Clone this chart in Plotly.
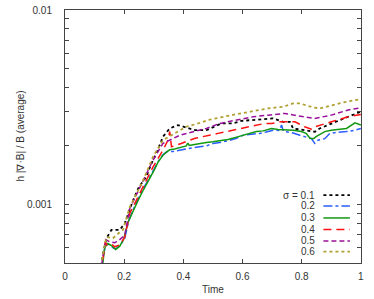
import plotly.graph_objects as go

# sigma = 0.1 (black dotted)
t1 = [0.12, 0.128, 0.14, 0.157, 0.185, 0.202, 0.23, 0.25, 0.275, 0.29, 0.309, 0.331, 0.354, 0.382, 0.44, 0.478, 0.529, 0.568, 0.596, 0.636, 0.675, 0.703, 0.737, 0.76, 0.771, 0.81, 0.845, 0.861, 0.9, 0.957, 1.0]
v1 = [0.00045, 0.00055, 0.00067, 0.00074, 0.00074, 0.00080, 0.00105, 0.00123, 0.00139, 0.0016, 0.00183, 0.00223, 0.00246, 0.00256, 0.00241, 0.00241, 0.00261, 0.00261, 0.00269, 0.00272, 0.00277, 0.00277, 0.00266, 0.00266, 0.00246, 0.00241, 0.002365, 0.00246, 0.00261, 0.002825, 0.0030]
# sigma = 0.2 (blue dash-dot)
t2 = [0.12, 0.128, 0.1375, 0.15, 0.165, 0.174, 0.19, 0.202, 0.215, 0.23, 0.247, 0.265, 0.281, 0.30, 0.3145, 0.331, 0.345, 0.365, 0.388, 0.41, 0.433, 0.455, 0.478, 0.50, 0.523, 0.557, 0.58, 0.602, 0.636, 0.658, 0.68, 0.703, 0.725, 0.732, 0.738, 0.749, 0.771, 0.794, 0.815, 0.833, 0.844, 0.855, 0.878, 0.895, 0.92, 0.9515, 0.98, 1.0]
v2 = [0.00045, 0.00052, 0.00063, 0.00062, 0.000595, 0.000594, 0.00063, 0.00067, 0.00082, 0.00094, 0.00107, 0.00121, 0.00133, 0.00151, 0.00166, 0.00180, 0.00187, 0.00187, 0.00190, 0.00194, 0.00196, 0.00198, 0.00200, 0.00206, 0.00208, 0.00214, 0.00219, 0.00227, 0.00229, 0.00232, 0.00236, 0.00241, 0.00240, 0.00256, 0.00238, 0.00237, 0.00233, 0.00227, 0.00222, 0.00218, 0.00206, 0.00214, 0.00218, 0.00232, 0.00235, 0.00237, 0.00241, 0.00246]
# sigma = 0.3 (green solid)
t3 = [0.12, 0.128, 0.134, 0.145, 0.157, 0.171, 0.185, 0.198, 0.213, 0.23, 0.247, 0.265, 0.281, 0.30, 0.3145, 0.331, 0.345, 0.354, 0.37, 0.388, 0.41, 0.415, 0.42, 0.433, 0.455, 0.478, 0.50, 0.523, 0.551, 0.58, 0.602, 0.625, 0.647, 0.67, 0.698, 0.72, 0.749, 0.771, 0.799, 0.815, 0.828, 0.84, 0.85, 0.878, 0.90, 0.93, 0.9515, 0.98, 1.0]
v3 = [0.00045, 0.0005, 0.00060, 0.00063, 0.000615, 0.000587, 0.00061, 0.00066, 0.00081, 0.00093, 0.00105, 0.00119, 0.00131, 0.00149, 0.00165, 0.00179, 0.00187, 0.00191, 0.00193, 0.00196, 0.00200, 0.00207, 0.00201, 0.00203, 0.00206, 0.00208, 0.00210, 0.00213, 0.00216, 0.00222, 0.00227, 0.00232, 0.00237, 0.00239, 0.00246, 0.00243, 0.00243, 0.00241, 0.00237, 0.00232, 0.00219, 0.00218, 0.00224, 0.00237, 0.00241, 0.00243, 0.00246, 0.00263, 0.00256]
# sigma = 0.4 (red long dash)
t4 = [0.12, 0.128, 0.136, 0.142, 0.155, 0.168, 0.185, 0.202, 0.219, 0.2525, 0.2976, 0.331, 0.348, 0.354, 0.36, 0.393, 0.44, 0.517, 0.596, 0.675, 0.698, 0.73, 0.777, 0.81, 0.833, 0.845, 0.9, 0.957, 1.0]
v4 = [0.00045, 0.00052, 0.00064, 0.00062, 0.00063, 0.000606, 0.00062, 0.00068, 0.00090, 0.00114, 0.00156, 0.0019, 0.00214, 0.00237, 0.00198, 0.00206, 0.00219, 0.00232, 0.00246, 0.00261, 0.00261, 0.00266, 0.00266, 0.00251, 0.00244, 0.00251, 0.00266, 0.002825, 0.00290]
# sigma = 0.5 (purple dash)
t5 = [0.12, 0.128, 0.1375, 0.151, 0.168, 0.185, 0.202, 0.219, 0.2525, 0.2976, 0.331, 0.354, 0.388, 0.433, 0.478, 0.523, 0.568, 0.636, 0.687, 0.743, 0.788, 0.844, 0.9, 0.957, 1.0]
v5 = [0.00045, 0.00053, 0.00066, 0.000643, 0.000635, 0.00066, 0.000695, 0.000954, 0.00121, 0.00169, 0.00206, 0.00214, 0.00227, 0.002365, 0.00246, 0.00261, 0.002694, 0.002825, 0.00288, 0.00294, 0.00285, 0.00277, 0.00288, 0.00306, 0.00314]
# sigma = 0.6 (olive dotted)
t6 = [0.12, 0.128, 0.14, 0.162, 0.185, 0.196, 0.219, 0.264, 0.2976, 0.331, 0.371, 0.41, 0.45, 0.484, 0.563, 0.63, 0.687, 0.737, 0.771, 0.794, 0.839, 0.861, 0.906, 0.9515, 1.0]
v6 = [0.00045, 0.00055, 0.00068, 0.00067, 0.00072, 0.00074, 0.00097, 0.00133, 0.00176, 0.00214, 0.00232, 0.00251, 0.00261, 0.00272, 0.00288, 0.0030, 0.00312, 0.00318, 0.00331, 0.00331, 0.003155, 0.00312, 0.00324, 0.003375, 0.003483]

labels = ["\u03c3 = 0.1", "0.2", "0.3", "0.4", "0.5", "0.6"]
colors = ["#000000", "#2a5cff", "#119911", "#ff1010", "#9a109a", "#b0a030"]
dashes = ["dot", "dashdot", "solid", "8px,5px", "5px,3px", "dot"]
widths = [1.8, 1.5, 1.5, 1.5, 1.5, 1.8]
series = [(t1, v1), (t2, v2), (t3, v3), (t4, v4), (t5, v5), (t6, v6)]

xticks = [0, 0.2, 0.4, 0.6, 0.8, 1]
xtext = ["0", "0.2", "0.4", "0.6", "0.8", "1"]
yticks = [0.0005, 0.0006, 0.0007, 0.0008, 0.0009, 0.001, 0.002, 0.003, 0.004, 0.005, 0.006, 0.007, 0.008, 0.009, 0.01]
ytext = ["", "", "", "", "", "0.001", "", "", "", "", "", "", "", "", "0.01"]
ytitle = "h |\u2207\u00b7B| / B (average)"

fig = go.Figure()
for (t, v), c, d, w in zip(series, colors, dashes, widths):
    fig.add_trace(go.Scatter(x=t, y=v, mode="lines", line=dict(color=c, dash=d, width=w), showlegend=False))

# manual legend (text left of the sample line, like the original)
row_y = [0.268, 0.2256, 0.178, 0.132, 0.087, 0.045]
for lab, c, d, w, yy in zip(labels, colors, dashes, widths, row_y):
    fig.add_annotation(x=0.852, y=yy, xref="paper", yref="paper", text=lab, showarrow=False,
                       xanchor="right", yanchor="middle", font=dict(size=10, color="#333"))
    fig.add_shape(type="line", xref="paper", yref="paper", x0=0.873, x1=0.9625, y0=yy, y1=yy,
                  line=dict(color=c, dash=d, width=w))

# y-axis title as a rotated annotation (placed like the original)
fig.add_annotation(x=-0.152, y=0.5, xref="paper", yref="paper", text=ytitle, textangle=-90,
                   showarrow=False, xanchor="center", yanchor="middle", font=dict(size=10, color="#333"))

fig.update_layout(
    width=374, height=299,
    margin=dict(l=65, r=13, t=10, b=36),
    paper_bgcolor="white", plot_bgcolor="white",
    font=dict(family="Liberation Sans, Arial, sans-serif", size=10, color="#333"),
)
fig.update_xaxes(range=[0, 1.0005], tickvals=xticks, ticktext=xtext, automargin=False,
                 ticks="inside", ticklen=4, tickcolor="#444", showline=True, linecolor="#444", linewidth=1,
                 mirror="allticks", showgrid=False, zeroline=False, ticklabelstandoff=4,
                 title=dict(text="Time", standoff=4, font=dict(size=10)))
fig.update_yaxes(type="log", range=[-3.301, -2], tickvals=yticks, ticktext=ytext, automargin=False,
                 ticks="inside", ticklen=4, tickcolor="#444", showline=True, linecolor="#444", linewidth=1,
                 mirror="allticks", showgrid=False, zeroline=False, ticklabelstandoff=10)

fig.write_html("out.html", config={"displayModeBar": False},
               post_script="document.body.style.margin='0';document.body.style.overflow='hidden';")
